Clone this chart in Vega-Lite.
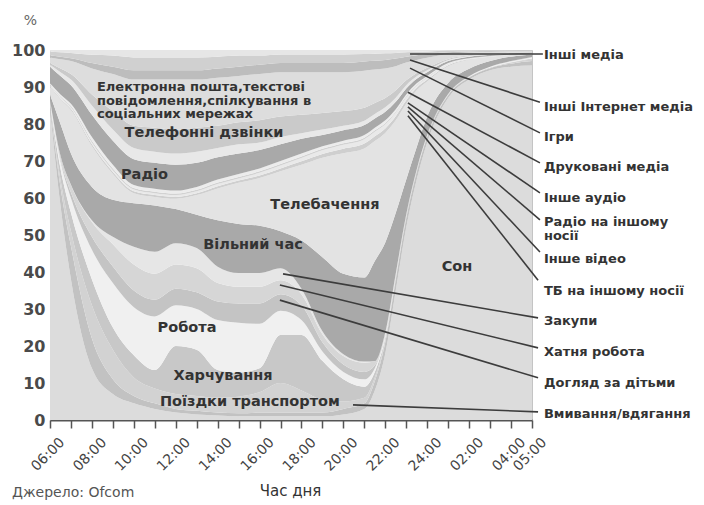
{
"$schema":"https://vega.github.io/schema/vega-lite/v6.json",
"width":482,"height":370,
"autosize":{"type":"none"},
"padding":{"left":50,"top":50,"right":172,"bottom":85},
"background":"white",
"config":{"view":{"stroke":"#c4c4c4"},"font":"DejaVu Sans"},
"resolve":{"axis":{"x":"independent","y":"independent"}},
"datasets":{"d":[
{"t":6,"k":1,"v":84},{"t":6,"k":2,"v":1.2},{"t":6,"k":3,"v":0.3},{"t":6,"k":4,"v":0.3},{"t":6,"k":5,"v":0.4},{"t":6,"k":6,"v":0.1},{"t":6,"k":7,"v":0.2},{"t":6,"k":8,"v":0},{"t":6,"k":9,"v":1.5},{"t":6,"k":10,"v":2.1},{"t":6,"k":11,"v":0.2},{"t":6,"k":12,"v":0.2},{"t":6,"k":13,"v":0.2},{"t":6,"k":14,"v":0.3},{"t":6,"k":15,"v":4.5},{"t":6,"k":16,"v":0.5},{"t":6,"k":17,"v":0.5},{"t":6,"k":18,"v":1.5},{"t":6,"k":19,"v":0.5},{"t":6,"k":20,"v":1},{"t":6,"k":21,"v":0.5},
{"t":6.5,"k":1,"v":58},{"t":6.5,"k":2,"v":5},{"t":6.5,"k":3,"v":2},{"t":6.5,"k":4,"v":3},{"t":6.5,"k":5,"v":2},{"t":6.5,"k":6,"v":0.5},{"t":6.5,"k":7,"v":1},{"t":6.5,"k":8,"v":0},{"t":6.5,"k":9,"v":8.5},{"t":6.5,"k":10,"v":6.6},{"t":6.5,"k":11,"v":0.3},{"t":6.5,"k":12,"v":0.3},{"t":6.5,"k":13,"v":0.3},{"t":6.5,"k":14,"v":0.5},{"t":6.5,"k":15,"v":5},{"t":6.5,"k":16,"v":1},{"t":6.5,"k":17,"v":1},{"t":6.5,"k":18,"v":2.5},{"t":6.5,"k":19,"v":0.7},{"t":6.5,"k":20,"v":1.2},{"t":6.5,"k":21,"v":0.6},
{"t":7,"k":1,"v":38},{"t":7,"k":2,"v":9},{"t":7,"k":3,"v":4},{"t":7,"k":4,"v":5},{"t":7,"k":5,"v":4},{"t":7,"k":6,"v":1.5},{"t":7,"k":7,"v":2},{"t":7,"k":8,"v":0.1},{"t":7,"k":9,"v":8.4},{"t":7,"k":10,"v":11.7},{"t":7,"k":11,"v":0.4},{"t":7,"k":12,"v":0.4},{"t":7,"k":13,"v":0.4},{"t":7,"k":14,"v":0.6},{"t":7,"k":15,"v":5},{"t":7,"k":16,"v":1.5},{"t":7,"k":17,"v":1.5},{"t":7,"k":18,"v":3.5},{"t":7,"k":19,"v":0.8},{"t":7,"k":20,"v":1.4},{"t":7,"k":21,"v":0.8},
{"t":8,"k":1,"v":14},{"t":8,"k":2,"v":8},{"t":8,"k":3,"v":9},{"t":8,"k":4,"v":7},{"t":8,"k":5,"v":8},{"t":8,"k":6,"v":3.5},{"t":8,"k":7,"v":4},{"t":8,"k":8,"v":0.5},{"t":8,"k":9,"v":9},{"t":8,"k":10,"v":11},{"t":8,"k":11,"v":0.5},{"t":8,"k":12,"v":0.5},{"t":8,"k":13,"v":0.5},{"t":8,"k":14,"v":1},{"t":8,"k":15,"v":6},{"t":8,"k":16,"v":2.5},{"t":8,"k":17,"v":3},{"t":8,"k":18,"v":7},{"t":8,"k":19,"v":1.5},{"t":8,"k":20,"v":2.2},{"t":8,"k":21,"v":1.3},
{"t":9,"k":1,"v":7},{"t":9,"k":2,"v":4},{"t":9,"k":3,"v":8},{"t":9,"k":4,"v":6},{"t":9,"k":5,"v":12},{"t":9,"k":6,"v":4.5},{"t":9,"k":7,"v":6},{"t":9,"k":8,"v":2},{"t":9,"k":9,"v":10},{"t":9,"k":10,"v":7},{"t":9,"k":11,"v":0.5},{"t":9,"k":12,"v":0.5},{"t":9,"k":13,"v":0.5},{"t":9,"k":14,"v":1},{"t":9,"k":15,"v":6.5},{"t":9,"k":16,"v":3},{"t":9,"k":17,"v":5},{"t":9,"k":18,"v":10},{"t":9,"k":19,"v":2},{"t":9,"k":20,"v":3},{"t":9,"k":21,"v":1.5},
{"t":10,"k":1,"v":4.5},{"t":10,"k":2,"v":2},{"t":10,"k":3,"v":5},{"t":10,"k":4,"v":6},{"t":10,"k":5,"v":13},{"t":10,"k":6,"v":4.5},{"t":10,"k":7,"v":7},{"t":10,"k":8,"v":4.8},{"t":10,"k":9,"v":11.8},{"t":10,"k":10,"v":2.7},{"t":10,"k":11,"v":0.5},{"t":10,"k":12,"v":0.5},{"t":10,"k":13,"v":0.4},{"t":10,"k":14,"v":0.8},{"t":10,"k":15,"v":7},{"t":10,"k":16,"v":3},{"t":10,"k":17,"v":6},{"t":10,"k":18,"v":12.5},{"t":10,"k":19,"v":2.5},{"t":10,"k":20,"v":3.5},{"t":10,"k":21,"v":2},
{"t":11,"k":1,"v":3},{"t":11,"k":2,"v":1.5},{"t":11,"k":3,"v":4},{"t":11,"k":4,"v":5},{"t":11,"k":5,"v":14.5},{"t":11,"k":6,"v":4.5},{"t":11,"k":7,"v":7},{"t":11,"k":8,"v":6},{"t":11,"k":9,"v":12.5},{"t":11,"k":10,"v":2.3},{"t":11,"k":11,"v":0.5},{"t":11,"k":12,"v":0.5},{"t":11,"k":13,"v":0.4},{"t":11,"k":14,"v":0.8},{"t":11,"k":15,"v":7},{"t":11,"k":16,"v":3},{"t":11,"k":17,"v":6.5},{"t":11,"k":18,"v":13},{"t":11,"k":19,"v":2.5},{"t":11,"k":20,"v":3.5},{"t":11,"k":21,"v":2},
{"t":12,"k":1,"v":2},{"t":12,"k":2,"v":1},{"t":12,"k":3,"v":4},{"t":12,"k":4,"v":13},{"t":12,"k":5,"v":11},{"t":12,"k":6,"v":4.5},{"t":12,"k":7,"v":6.5},{"t":12,"k":8,"v":5.8},{"t":12,"k":9,"v":9.2},{"t":12,"k":10,"v":2.8},{"t":12,"k":11,"v":0.5},{"t":12,"k":12,"v":0.5},{"t":12,"k":13,"v":0.4},{"t":12,"k":14,"v":0.8},{"t":12,"k":15,"v":7},{"t":12,"k":16,"v":3},{"t":12,"k":17,"v":6.5},{"t":12,"k":18,"v":13.5},{"t":12,"k":19,"v":2.5},{"t":12,"k":20,"v":3.5},{"t":12,"k":21,"v":2},
{"t":13,"k":1,"v":1.5},{"t":13,"k":2,"v":1},{"t":13,"k":3,"v":4},{"t":13,"k":4,"v":12.5},{"t":13,"k":5,"v":11},{"t":13,"k":6,"v":4.5},{"t":13,"k":7,"v":6.5},{"t":13,"k":8,"v":5.5},{"t":13,"k":9,"v":9},{"t":13,"k":10,"v":5.3},{"t":13,"k":11,"v":0.5},{"t":13,"k":12,"v":0.5},{"t":13,"k":13,"v":0.4},{"t":13,"k":14,"v":0.8},{"t":13,"k":15,"v":6.5},{"t":13,"k":16,"v":3},{"t":13,"k":17,"v":6.5},{"t":13,"k":18,"v":13},{"t":13,"k":19,"v":2.5},{"t":13,"k":20,"v":3.5},{"t":13,"k":21,"v":2},
{"t":14,"k":1,"v":1.2},{"t":14,"k":2,"v":0.8},{"t":14,"k":3,"v":4},{"t":14,"k":4,"v":7.5},{"t":14,"k":5,"v":13.5},{"t":14,"k":6,"v":5},{"t":14,"k":7,"v":5},{"t":14,"k":8,"v":4.4},{"t":14,"k":9,"v":12.6},{"t":14,"k":10,"v":8.6},{"t":14,"k":11,"v":0.6},{"t":14,"k":12,"v":0.6},{"t":14,"k":13,"v":0.4},{"t":14,"k":14,"v":0.8},{"t":14,"k":15,"v":6},{"t":14,"k":16,"v":2.5},{"t":14,"k":17,"v":6},{"t":14,"k":18,"v":13},{"t":14,"k":19,"v":2.5},{"t":14,"k":20,"v":3.2},{"t":14,"k":21,"v":1.8},
{"t":15,"k":1,"v":1},{"t":15,"k":2,"v":0.8},{"t":15,"k":3,"v":4.5},{"t":15,"k":4,"v":6.5},{"t":15,"k":5,"v":13.5},{"t":15,"k":6,"v":5.2},{"t":15,"k":7,"v":4.5},{"t":15,"k":8,"v":3.7},{"t":15,"k":9,"v":13.3},{"t":15,"k":10,"v":11.1},{"t":15,"k":11,"v":0.6},{"t":15,"k":12,"v":0.6},{"t":15,"k":13,"v":0.4},{"t":15,"k":14,"v":0.8},{"t":15,"k":15,"v":5.5},{"t":15,"k":16,"v":2.5},{"t":15,"k":17,"v":6},{"t":15,"k":18,"v":12.5},{"t":15,"k":19,"v":2.5},{"t":15,"k":20,"v":3},{"t":15,"k":21,"v":1.5},
{"t":16,"k":1,"v":1},{"t":16,"k":2,"v":1},{"t":16,"k":3,"v":5.5},{"t":16,"k":4,"v":6.5},{"t":16,"k":5,"v":12},{"t":16,"k":6,"v":5.5},{"t":16,"k":7,"v":4.5},{"t":16,"k":8,"v":3.7},{"t":16,"k":9,"v":12.8},{"t":16,"k":10,"v":12.9},{"t":16,"k":11,"v":0.7},{"t":16,"k":12,"v":0.7},{"t":16,"k":13,"v":0.4},{"t":16,"k":14,"v":0.8},{"t":16,"k":15,"v":5},{"t":16,"k":16,"v":2},{"t":16,"k":17,"v":6},{"t":16,"k":18,"v":12.5},{"t":16,"k":19,"v":2.5},{"t":16,"k":20,"v":2.5},{"t":16,"k":21,"v":1.5},
{"t":17,"k":1,"v":1},{"t":17,"k":2,"v":1},{"t":17,"k":3,"v":8},{"t":17,"k":4,"v":13},{"t":17,"k":5,"v":6.5},{"t":17,"k":6,"v":4.5},{"t":17,"k":7,"v":3.8},{"t":17,"k":8,"v":3.2},{"t":17,"k":9,"v":10},{"t":17,"k":10,"v":16.2},{"t":17,"k":11,"v":0.8},{"t":17,"k":12,"v":0.8},{"t":17,"k":13,"v":0.4},{"t":17,"k":14,"v":0.8},{"t":17,"k":15,"v":4.5},{"t":17,"k":16,"v":2},{"t":17,"k":17,"v":5.5},{"t":17,"k":18,"v":12},{"t":17,"k":19,"v":2.5},{"t":17,"k":20,"v":2.3},{"t":17,"k":21,"v":1.2},
{"t":18,"k":1,"v":1},{"t":18,"k":2,"v":1},{"t":18,"k":3,"v":6},{"t":18,"k":4,"v":15},{"t":18,"k":5,"v":4},{"t":18,"k":6,"v":4},{"t":18,"k":7,"v":3},{"t":18,"k":8,"v":1.5},{"t":18,"k":9,"v":13},{"t":18,"k":10,"v":20.5},{"t":18,"k":11,"v":0.9},{"t":18,"k":12,"v":0.9},{"t":18,"k":13,"v":0.4},{"t":18,"k":14,"v":0.8},{"t":18,"k":15,"v":4},{"t":18,"k":16,"v":1.5},{"t":18,"k":17,"v":5},{"t":18,"k":18,"v":11.5},{"t":18,"k":19,"v":2.5},{"t":18,"k":20,"v":2.3},{"t":18,"k":21,"v":1.2},
{"t":19,"k":1,"v":1},{"t":19,"k":2,"v":1},{"t":19,"k":3,"v":3.5},{"t":19,"k":4,"v":10.5},{"t":19,"k":5,"v":2.5},{"t":19,"k":6,"v":2.5},{"t":19,"k":7,"v":2.2},{"t":19,"k":8,"v":0.8},{"t":19,"k":9,"v":20},{"t":19,"k":10,"v":26.9},{"t":19,"k":11,"v":1},{"t":19,"k":12,"v":1},{"t":19,"k":13,"v":0.4},{"t":19,"k":14,"v":0.7},{"t":19,"k":15,"v":3},{"t":19,"k":16,"v":1.5},{"t":19,"k":17,"v":4.5},{"t":19,"k":18,"v":11},{"t":19,"k":19,"v":2.5},{"t":19,"k":20,"v":2.3},{"t":19,"k":21,"v":1.2},
{"t":20,"k":1,"v":1.5},{"t":20,"k":2,"v":1.5},{"t":20,"k":3,"v":2},{"t":20,"k":4,"v":6},{"t":20,"k":5,"v":2},{"t":20,"k":6,"v":2},{"t":20,"k":7,"v":2.3},{"t":20,"k":8,"v":0.5},{"t":20,"k":9,"v":21.7},{"t":20,"k":10,"v":32.6},{"t":20,"k":11,"v":1.2},{"t":20,"k":12,"v":1.1},{"t":20,"k":13,"v":0.4},{"t":20,"k":14,"v":0.7},{"t":20,"k":15,"v":2.8},{"t":20,"k":16,"v":1.2},{"t":20,"k":17,"v":4},{"t":20,"k":18,"v":10.5},{"t":20,"k":19,"v":2.5},{"t":20,"k":20,"v":2.3},{"t":20,"k":21,"v":1.2},
{"t":21,"k":1,"v":3},{"t":21,"k":2,"v":1.5},{"t":21,"k":3,"v":1.5},{"t":21,"k":4,"v":3},{"t":21,"k":5,"v":2},{"t":21,"k":6,"v":2},{"t":21,"k":7,"v":2.5},{"t":21,"k":8,"v":0.3},{"t":21,"k":9,"v":22.7},{"t":21,"k":10,"v":34.9},{"t":21,"k":11,"v":1.3},{"t":21,"k":12,"v":1.2},{"t":21,"k":13,"v":0.4},{"t":21,"k":14,"v":0.7},{"t":21,"k":15,"v":2.7},{"t":21,"k":16,"v":1.2},{"t":21,"k":17,"v":3.5},{"t":21,"k":18,"v":10},{"t":21,"k":19,"v":2.5},{"t":21,"k":20,"v":2},{"t":21,"k":21,"v":1.1},
{"t":21.5,"k":1,"v":8},{"t":21.5,"k":2,"v":2.5},{"t":21.5,"k":3,"v":1},{"t":21.5,"k":4,"v":1.5},{"t":21.5,"k":5,"v":1},{"t":21.5,"k":6,"v":0.8},{"t":21.5,"k":7,"v":1},{"t":21.5,"k":8,"v":0.1},{"t":21.5,"k":9,"v":27.1},{"t":21.5,"k":10,"v":32.4},{"t":21.5,"k":11,"v":1.3},{"t":21.5,"k":12,"v":1.2},{"t":21.5,"k":13,"v":0.4},{"t":21.5,"k":14,"v":0.7},{"t":21.5,"k":15,"v":2.5},{"t":21.5,"k":16,"v":1.2},{"t":21.5,"k":17,"v":3},{"t":21.5,"k":18,"v":9},{"t":21.5,"k":19,"v":2.4},{"t":21.5,"k":20,"v":1.9},{"t":21.5,"k":21,"v":1},
{"t":22,"k":1,"v":18},{"t":22,"k":2,"v":3},{"t":22,"k":3,"v":0.7},{"t":22,"k":4,"v":0.6},{"t":22,"k":5,"v":0.6},{"t":22,"k":6,"v":0.3},{"t":22,"k":7,"v":0.5},{"t":22,"k":8,"v":0},{"t":22,"k":9,"v":24.3},{"t":22,"k":10,"v":29.6},{"t":22,"k":11,"v":1.2},{"t":22,"k":12,"v":1.1},{"t":22,"k":13,"v":0.4},{"t":22,"k":14,"v":0.7},{"t":22,"k":15,"v":2.3},{"t":22,"k":16,"v":1.2},{"t":22,"k":17,"v":2.5},{"t":22,"k":18,"v":8},{"t":22,"k":19,"v":2.3},{"t":22,"k":20,"v":1.8},{"t":22,"k":21,"v":0.9},
{"t":22.5,"k":1,"v":35},{"t":22.5,"k":2,"v":3},{"t":22.5,"k":3,"v":0.4},{"t":22.5,"k":4,"v":0.4},{"t":22.5,"k":5,"v":0.4},{"t":22.5,"k":6,"v":0.1},{"t":22.5,"k":7,"v":0.3},{"t":22.5,"k":8,"v":0},{"t":22.5,"k":9,"v":16.4},{"t":22.5,"k":10,"v":25},{"t":22.5,"k":11,"v":1.1},{"t":22.5,"k":12,"v":1},{"t":22.5,"k":13,"v":0.3},{"t":22.5,"k":14,"v":0.6},{"t":22.5,"k":15,"v":2},{"t":22.5,"k":16,"v":1.1},{"t":22.5,"k":17,"v":2},{"t":22.5,"k":18,"v":6.5},{"t":22.5,"k":19,"v":2.1},{"t":22.5,"k":20,"v":1.5},{"t":22.5,"k":21,"v":0.8},
{"t":23,"k":1,"v":52},{"t":23,"k":2,"v":2.5},{"t":23,"k":3,"v":0.3},{"t":23,"k":4,"v":0.3},{"t":23,"k":5,"v":0.2},{"t":23,"k":6,"v":0.1},{"t":23,"k":7,"v":0.2},{"t":23,"k":8,"v":0},{"t":23,"k":9,"v":9.4},{"t":23,"k":10,"v":20.5},{"t":23,"k":11,"v":0.9},{"t":23,"k":12,"v":0.8},{"t":23,"k":13,"v":0.3},{"t":23,"k":14,"v":0.5},{"t":23,"k":15,"v":1.6},{"t":23,"k":16,"v":0.9},{"t":23,"k":17,"v":1.3},{"t":23,"k":18,"v":4.8},{"t":23,"k":19,"v":1.6},{"t":23,"k":20,"v":1.2},{"t":23,"k":21,"v":0.6},
{"t":23.5,"k":1,"v":65},{"t":23.5,"k":2,"v":2},{"t":23.5,"k":3,"v":0.2},{"t":23.5,"k":4,"v":0.2},{"t":23.5,"k":5,"v":0.2},{"t":23.5,"k":6,"v":0.05},{"t":23.5,"k":7,"v":0.15},{"t":23.5,"k":8,"v":0},{"t":23.5,"k":9,"v":6},{"t":23.5,"k":10,"v":15.3},{"t":23.5,"k":11,"v":0.7},{"t":23.5,"k":12,"v":0.6},{"t":23.5,"k":13,"v":0.2},{"t":23.5,"k":14,"v":0.4},{"t":23.5,"k":15,"v":1.2},{"t":23.5,"k":16,"v":0.7},{"t":23.5,"k":17,"v":0.9},{"t":23.5,"k":18,"v":3.5},{"t":23.5,"k":19,"v":1.3},{"t":23.5,"k":20,"v":0.9},{"t":23.5,"k":21,"v":0.5},
{"t":24,"k":1,"v":75},{"t":24,"k":2,"v":1.5},{"t":24,"k":3,"v":0.2},{"t":24,"k":4,"v":0.1},{"t":24,"k":5,"v":0.15},{"t":24,"k":6,"v":0},{"t":24,"k":7,"v":0.05},{"t":24,"k":8,"v":0},{"t":24,"k":9,"v":5},{"t":24,"k":10,"v":9.5},{"t":24,"k":11,"v":0.5},{"t":24,"k":12,"v":0.5},{"t":24,"k":13,"v":0.2},{"t":24,"k":14,"v":0.3},{"t":24,"k":15,"v":1},{"t":24,"k":16,"v":0.5},{"t":24,"k":17,"v":0.7},{"t":24,"k":18,"v":2.7},{"t":24,"k":19,"v":1},{"t":24,"k":20,"v":0.7},{"t":24,"k":21,"v":0.4},
{"t":25,"k":1,"v":87},{"t":25,"k":2,"v":0.8},{"t":25,"k":3,"v":0.1},{"t":25,"k":4,"v":0.05},{"t":25,"k":5,"v":0.1},{"t":25,"k":6,"v":0},{"t":25,"k":7,"v":0.05},{"t":25,"k":8,"v":0},{"t":25,"k":9,"v":3},{"t":25,"k":10,"v":4.5},{"t":25,"k":11,"v":0.3},{"t":25,"k":12,"v":0.3},{"t":25,"k":13,"v":0.1},{"t":25,"k":14,"v":0.2},{"t":25,"k":15,"v":0.5},{"t":25,"k":16,"v":0.3},{"t":25,"k":17,"v":0.3},{"t":25,"k":18,"v":1.3},{"t":25,"k":19,"v":0.5},{"t":25,"k":20,"v":0.4},{"t":25,"k":21,"v":0.2},
{"t":26,"k":1,"v":92},{"t":26,"k":2,"v":0.6},{"t":26,"k":3,"v":0.1},{"t":26,"k":4,"v":0.05},{"t":26,"k":5,"v":0.1},{"t":26,"k":6,"v":0},{"t":26,"k":7,"v":0.05},{"t":26,"k":8,"v":0},{"t":26,"k":9,"v":2},{"t":26,"k":10,"v":2.45},{"t":26,"k":11,"v":0.15},{"t":26,"k":12,"v":0.15},{"t":26,"k":13,"v":0.05},{"t":26,"k":14,"v":0.1},{"t":26,"k":15,"v":0.4},{"t":26,"k":16,"v":0.2},{"t":26,"k":17,"v":0.2},{"t":26,"k":18,"v":0.7},{"t":26,"k":19,"v":0.3},{"t":26,"k":20,"v":0.25},{"t":26,"k":21,"v":0.15},
{"t":27,"k":1,"v":94.5},{"t":27,"k":2,"v":0.6},{"t":27,"k":3,"v":0.15},{"t":27,"k":4,"v":0.05},{"t":27,"k":5,"v":0.15},{"t":27,"k":6,"v":0},{"t":27,"k":7,"v":0.05},{"t":27,"k":8,"v":0},{"t":27,"k":9,"v":1.5},{"t":27,"k":10,"v":1.1},{"t":27,"k":11,"v":0.1},{"t":27,"k":12,"v":0.1},{"t":27,"k":13,"v":0.05},{"t":27,"k":14,"v":0.05},{"t":27,"k":15,"v":0.3},{"t":27,"k":16,"v":0.15},{"t":27,"k":17,"v":0.15},{"t":27,"k":18,"v":0.5},{"t":27,"k":19,"v":0.2},{"t":27,"k":20,"v":0.2},{"t":27,"k":21,"v":0.1},
{"t":28,"k":1,"v":95.5},{"t":28,"k":2,"v":0.8},{"t":28,"k":3,"v":0.3},{"t":28,"k":4,"v":0.1},{"t":28,"k":5,"v":0.2},{"t":28,"k":6,"v":0},{"t":28,"k":7,"v":0.1},{"t":28,"k":8,"v":0},{"t":28,"k":9,"v":1.2},{"t":28,"k":10,"v":0.4},{"t":28,"k":11,"v":0.1},{"t":28,"k":12,"v":0.05},{"t":28,"k":13,"v":0.03},{"t":28,"k":14,"v":0.02},{"t":28,"k":15,"v":0.3},{"t":28,"k":16,"v":0.1},{"t":28,"k":17,"v":0.1},{"t":28,"k":18,"v":0.35},{"t":28,"k":19,"v":0.15},{"t":28,"k":20,"v":0.12},{"t":28,"k":21,"v":0.08},
{"t":29,"k":1,"v":95.8},{"t":29,"k":2,"v":1.2},{"t":29,"k":3,"v":0.5},{"t":29,"k":4,"v":0.2},{"t":29,"k":5,"v":0.3},{"t":29,"k":6,"v":0},{"t":29,"k":7,"v":0.1},{"t":29,"k":8,"v":0},{"t":29,"k":9,"v":0.6},{"t":29,"k":10,"v":0.15},{"t":29,"k":11,"v":0.05},{"t":29,"k":12,"v":0.05},{"t":29,"k":13,"v":0.02},{"t":29,"k":14,"v":0.03},{"t":29,"k":15,"v":0.25},{"t":29,"k":16,"v":0.1},{"t":29,"k":17,"v":0.1},{"t":29,"k":18,"v":0.3},{"t":29,"k":19,"v":0.1},{"t":29,"k":20,"v":0.1},{"t":29,"k":21,"v":0.05}
]},
"layer":[
{"data":{"name":"d"},
 "mark":{"type":"area","interpolate":"monotone"},
 "encoding":{
  "x":{"field":"t","type":"quantitative","title":"Час дня","scale":{"domain":[6,29.001],"nice":false,"zero":false},
   "axis":{"values":[6,7,8,9,10,11,12,13,14,15,16,17,18,19,20,21,22,23,24,25,26,27,28,29],
    "labelExpr":"(datum.value % 2 == 1 && datum.value != 29) ? '' : (datum.value == 24 ? '24:00' : ((datum.value % 24 < 10 ? '0' : '') + (datum.value % 24) + ':00'))",
    "labelAngle":-45,"labelFontSize":14,"labelColor":"#444","labelFont":"DejaVu Sans","labelOverlap":false,"labelFlush":false,"labelPadding":7,"labelOffset":7,"labelBound":false,
    "tickSize":8,"tickWidth":1.5,"tickColor":"#555","domainColor":"#555","domainWidth":2,"grid":false,
    "titleFontSize":15,"titleFontWeight":"normal","titleColor":"#333","titleFont":"DejaVu Sans","titleY":70,"titleX":240,"titleBaseline":"middle"}},
  "y":{"field":"v","type":"quantitative","stack":"normalize","title":"%","scale":{"domain":[0,1],"nice":false},
   "axis":{"values":[0,0.1,0.2,0.3,0.4,0.5,0.6,0.7,0.8,0.9,1],"labelExpr":"'' + round(datum.value*100)","labelOverlap":false,"labelBound":false,
    "ticks":false,"domain":false,"grid":false,"labelPadding":5,"labelFontSize":16,"labelFontWeight":"bold","labelColor":"#4a4a4a","labelFont":"DejaVu Sans",
    "titleAngle":0,"titleX":-20,"titleY":-30,"titleAlign":"center","titleBaseline":"middle","titleFontSize":14,"titleFontWeight":"normal","titleColor":"#666"}},
  "color":{"field":"k","type":"nominal","legend":null,
   "scale":{"domain":[1,2,3,4,5,6,7,8,9,10,11,12,13,14,15,16,17,18,19,20,21],
    "range":["#dcdcdc","#c2c2c2","#d2d2d2","#c8c8c8","#f0f0f0","#c4c4c4","#d6d6d6","#e6e6e6","#a9a9a9","#e3e3e3","#cfcfcf","#e9e9e9","#d2d2d2","#ececec","#a9a9a9","#e8e8e8","#cacaca","#dddddd","#bdbdbd","#d0d0d0","#e6e6e6"]}},
  "order":{"field":"k","type":"quantitative","sort":"ascending"}}},
{"data":{"values":[
 {"x1":23.18,"y1":0.989,"x2":29.52,"y2":0.989},
 {"x1":23.18,"y1":0.973,"x2":29.38,"y2":0.859},
 {"x1":23.18,"y1":0.951,"x2":29.38,"y2":0.776},
 {"x1":23.08,"y1":0.886,"x2":29.38,"y2":0.695},
 {"x1":23.08,"y1":0.857,"x2":29.38,"y2":0.614},
 {"x1":23.08,"y1":0.846,"x2":29.38,"y2":0.541},
 {"x1":23.08,"y1":0.835,"x2":29.38,"y2":0.454},
 {"x1":23.08,"y1":0.822,"x2":29.29,"y2":0.378},
 {"x1":17.12,"y1":0.395,"x2":29.29,"y2":0.276},
 {"x1":16.97,"y1":0.365,"x2":29.29,"y2":0.195},
 {"x1":16.97,"y1":0.324,"x2":29.29,"y2":0.114},
 {"x1":20.46,"y1":0.041,"x2":29.29,"y2":0.022}]},
 "mark":{"type":"rule","color":"#3c3c3c","strokeWidth":1.6},
 "encoding":{"x":{"field":"x1","type":"quantitative","axis":null,"scale":{"domain":[6,29.001],"nice":false,"zero":false}},
  "y":{"field":"y1","type":"quantitative","axis":null,"scale":{"domain":[0,1],"nice":false}},
  "x2":{"field":"x2"},"y2":{"field":"y2"}}},
{"data":{"values":[
 {"x":29.57,"y":0.986,"txt":"Інші медіа"},
 {"x":29.57,"y":0.846,"txt":"Інші Інтернет медіа"},
 {"x":29.57,"y":0.765,"txt":"Ігри"},
 {"x":29.57,"y":0.684,"txt":"Друковані медіа"},
 {"x":29.57,"y":0.600,"txt":"Інше аудіо"},
 {"x":29.57,"y":0.535,"txt":"Радіо на іншому\nносії"},
 {"x":29.57,"y":0.435,"txt":"Інше відео"},
 {"x":29.57,"y":0.349,"txt":"ТБ на іншому носії"},
 {"x":29.57,"y":0.268,"txt":"Закупи"},
 {"x":29.57,"y":0.184,"txt":"Хатня робота"},
 {"x":29.57,"y":0.100,"txt":"Догляд за дітьми"},
 {"x":29.57,"y":0.016,"txt":"Вмивання/вдягання"}]},
 "mark":{"type":"text","align":"left","baseline":"middle","fontSize":13,"fontWeight":"bold","color":"#333","font":"DejaVu Sans","lineBreak":"\n","lineHeight":14},
 "encoding":{"x":{"field":"x","type":"quantitative","axis":null,"scale":{"domain":[6,29.001],"nice":false,"zero":false}},
  "y":{"field":"y","type":"quantitative","axis":null,"scale":{"domain":[0,1],"nice":false}},
  "text":{"field":"txt"}}},
{"data":{"values":[
 {"x":13.35,"y":0.776,"txt":"Телефонні дзвінки"},
 {"x":10.51,"y":0.662,"txt":"Радіо"},
 {"x":19.12,"y":0.581,"txt":"Телебачення"},
 {"x":15.69,"y":0.473,"txt":"Вільний час"},
 {"x":25.42,"y":0.414,"txt":"Сон"},
 {"x":12.54,"y":0.249,"txt":"Робота"},
 {"x":14.26,"y":0.119,"txt":"Харчування"},
 {"x":15.54,"y":0.049,"txt":"Поїздки транспортом"}]},
 "mark":{"type":"text","align":"center","baseline":"middle","fontSize":14.5,"fontWeight":"bold","color":"#333","font":"DejaVu Sans"},
 "encoding":{"x":{"field":"x","type":"quantitative","axis":null,"scale":{"domain":[6,29.001],"nice":false,"zero":false}},
  "y":{"field":"y","type":"quantitative","axis":null,"scale":{"domain":[0,1],"nice":false}},
  "text":{"field":"txt"}}},
{"data":{"values":[
 {"x":8.24,"y":0.9,"txt":"Електронна пошта,текстові\nповідомлення,спілкування в\nсоціальних мережах"}]},
 "mark":{"type":"text","align":"left","baseline":"middle","fontSize":13,"fontWeight":"bold","color":"#333","font":"DejaVu Sans","lineBreak":"\n","lineHeight":13.5},
 "encoding":{"x":{"field":"x","type":"quantitative","axis":null,"scale":{"domain":[6,29.001],"nice":false,"zero":false}},
  "y":{"field":"y","type":"quantitative","axis":null,"scale":{"domain":[0,1],"nice":false}},
  "text":{"field":"txt"}}},
{"data":{"values":[{"x":4.19,"y":-0.197,"txt":"Джерело: Ofcom"}]},
 "mark":{"type":"text","align":"left","baseline":"middle","fontSize":14,"color":"#555","font":"DejaVu Sans"},
 "encoding":{"x":{"field":"x","type":"quantitative","axis":null,"scale":{"domain":[6,29.001],"nice":false,"zero":false}},
  "y":{"field":"y","type":"quantitative","axis":null,"scale":{"domain":[0,1],"nice":false}},
  "text":{"field":"txt"}}}
]
}
